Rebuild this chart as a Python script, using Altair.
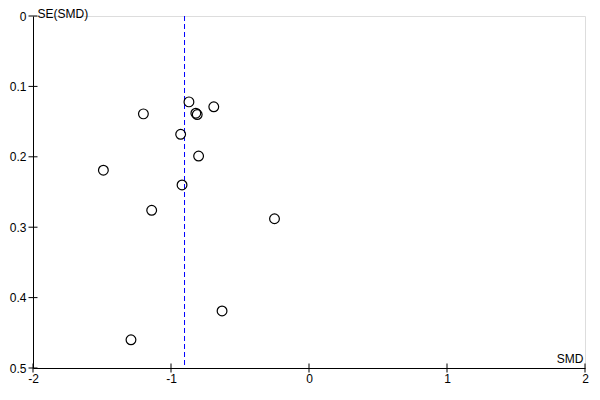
import altair as alt
import pandas as pd

smd = [-0.87, -0.69, -1.20, -0.82, -0.81, -0.93, -0.80, -1.49, -0.92, -1.14, -0.25, -0.63, -1.29]
se = [0.122, 0.129, 0.139, 0.138, 0.140, 0.168, 0.199, 0.219, 0.240, 0.276, 0.288, 0.419, 0.460]
pooled = -0.902
x_ticks = [-2, -1, 0, 1, 2]
y_ticks = [0, 0.1, 0.2, 0.3, 0.4, 0.5]

pts = pd.DataFrame({"SMD": smd, "SE": se})
xs = alt.Scale(domain=[-2, 2], nice=False, zero=False)
ys = alt.Scale(domain=[0, 0.5], nice=False, reverse=True)
FONT = "Liberation Sans"

xaxis = alt.Axis(values=x_ticks, ticks=False, grid=False, domainColor="black", domainWidth=1,
                 labelFont=FONT, labelFontSize=12, labelColor="black", labelPadding=5,
                 labelExpr="datum.value + ''",
                 title="SMD", titleFont=FONT, titleFontSize=12, titleFontWeight="normal",
                 titleColor="black", titleAlign="right", titleBaseline="alphabetic",
                 titleX=550, titleY=-6, labelFlush=False)
yaxis = alt.Axis(values=y_ticks, ticks=False, grid=False, domainColor="black", domainWidth=1,
                 labelFont=FONT, labelFontSize=12, labelColor="black", labelPadding=7,
                 title="SE(SMD)", titleFont=FONT, titleFontSize=12, titleFontWeight="normal",
                 titleColor="black", titleAngle=0, titleAlign="left", titleBaseline="top",
                 titleX=4, titleY=-8, format="~g", labelFlush=False)

points = alt.Chart(pts).mark_point(shape="circle", size=95, filled=False, color="black",
                                   strokeWidth=1.2, opacity=1).encode(
    x=alt.X("SMD:Q", scale=xs, axis=xaxis),
    y=alt.Y("SE:Q", scale=ys, axis=yaxis),
)

vline = alt.Chart(pd.DataFrame({"x": [pooled]})).mark_rule(
    color="#0000ff", strokeDash=[5, 3], strokeWidth=1).encode(x=alt.X("x:Q", scale=xs))

xt = alt.Chart(pd.DataFrame({"t": x_ticks})).mark_tick(
    orient="vertical", size=9, thickness=1, color="black", opacity=1).encode(
    x=alt.X("t:Q", scale=xs), y=alt.datum(0.5, scale=ys))

yt = alt.Chart(pd.DataFrame({"t": y_ticks})).mark_tick(
    orient="horizontal", size=9, thickness=1, color="black", opacity=1).encode(
    y=alt.Y("t:Q", scale=ys), x=alt.datum(-2, scale=xs))

chart = alt.layer(vline, points, xt, yt).properties(
    width=552, height=352,
    autosize=alt.AutoSizeParams(type="none"),
    padding={"left": 25, "top": 8, "right": 7, "bottom": 24},
).configure_view(stroke=None).configure(background="white")

chart.save("out.html", embed_options={"renderer": "svg", "actions": False})
